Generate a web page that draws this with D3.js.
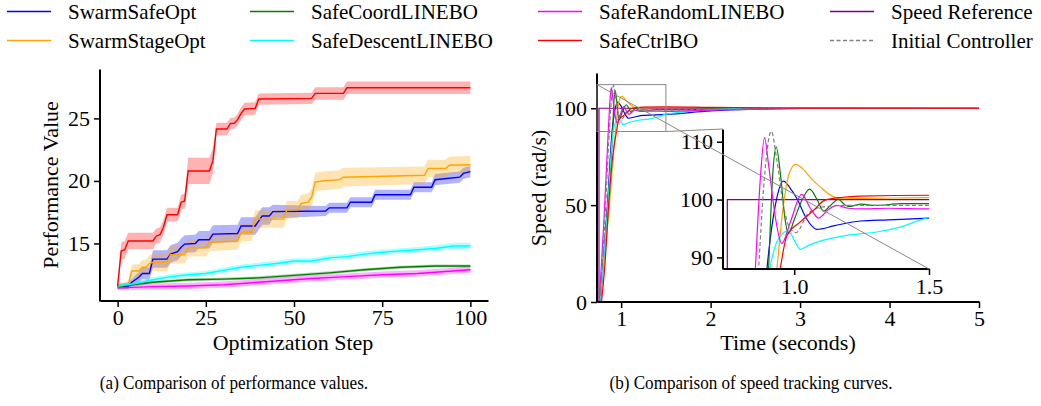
<html lang="en">
  <head>
    <meta charset="UTF-8">
    <title>Performance and speed tracking comparison</title>
    <script src="https://d3js.org/d3.v7.min.js"></script>
    <style>
body, html {
  margin: 0;
  padding: 0;
  background: white;
  overflow: hidden;
}
svg {
  display: block;
  font-family: "Liberation Serif", "Times New Roman", serif;
}
    </style>
  </head>
  <body>
    <svg width="1041" height="406"></svg>
    <script>
      // ---- left panel: [step, mean, half band width] knots ----
      const stepTicks = [0, 25, 50, 75, 100];
      const perfTicks = [15, 20, 25];

      const perfSafeCtrl = [
        [0, 11.6, 0.3], [1, 14.4, 0.7], [2, 14.5, 0.7], [3, 15.2, 0.65], [10, 15.2, 0.65],
        [11, 15.6, 0.6], [12, 15.7, 0.6], [13, 16.3, 0.6], [14, 17.3, 0.55], [17, 17.3, 0.55],
        [18, 18.3, 0.6], [19, 18.4, 0.6], [20, 20.8, 1.05], [26, 20.8, 1.05], [27, 21.6, 1.0],
        [28, 24.15, 0.5], [31, 24.15, 0.5], [32, 24.6, 0.45], [33, 24.6, 0.45], [34, 24.9, 0.45],
        [35, 25.4, 0.5], [36, 25.75, 0.5], [39, 25.8, 0.5], [40, 26.55, 0.45], [55, 26.6, 0.45],
        [56, 27.0, 0.5], [64, 27.0, 0.5], [65, 27.45, 0.5], [100, 27.45, 0.5]
      ];
      const perfSwarmSafe = [
        [0, 11.55, 0.2], [3, 11.6, 0.25], [4, 11.9, 0.3], [5, 12.1, 0.35], [6, 12.3, 0.4],
        [7, 12.6, 0.45], [9, 12.6, 0.5], [10, 13.75, 0.7], [14, 13.75, 0.7], [15, 14.15, 0.7],
        [17, 14.35, 0.7], [18, 14.7, 0.7], [19, 14.95, 0.7], [22, 15.0, 0.7], [23, 15.3, 0.7],
        [26, 15.3, 0.7], [27, 15.75, 0.7], [34, 15.8, 0.7], [35, 16.4, 0.7], [39, 16.4, 0.7],
        [40, 16.8, 0.7], [41, 17.2, 0.7], [43, 17.2, 0.7], [44, 17.55, 0.55], [59, 17.6, 0.4],
        [60, 17.85, 0.4], [65, 17.85, 0.4], [66, 18.3, 0.4], [72, 18.3, 0.4], [73, 18.9, 0.4],
        [83, 18.9, 0.4], [84, 19.5, 0.4], [89, 19.5, 0.4], [90, 20.1, 0.45], [97, 20.3, 0.45],
        [98, 20.6, 0.45], [100, 20.75, 0.45]
      ];
      const perfSwarmStage = [
        [0, 11.55, 0.2], [3, 11.7, 0.3], [4, 12.8, 0.5], [6, 12.8, 0.55], [7, 13.1, 0.6],
        [8, 13.1, 0.6], [9, 13.4, 0.65], [10, 13.5, 0.7], [14, 13.5, 0.7], [15, 14.1, 0.7],
        [19, 14.1, 0.7], [20, 14.65, 0.7], [25, 14.65, 0.7], [26, 15.1, 0.7], [34, 15.2, 0.7],
        [35, 15.9, 0.7], [38, 15.9, 0.7], [39, 16.95, 0.7], [47, 16.95, 0.7], [48, 17.7, 0.7],
        [51, 17.7, 0.7], [52, 18.2, 0.7], [54, 18.3, 0.7], [55, 18.7, 0.7], [56, 19.9, 0.75],
        [58, 20.0, 0.75], [63, 20.1, 0.75], [64, 20.3, 0.75], [87, 20.45, 0.7], [88, 21.0, 0.7],
        [93, 21.0, 0.7], [94, 21.25, 0.7], [100, 21.3, 0.7]
      ];
      const perfDescent = [
        [0, 11.6, 0.15], [5, 11.8, 0.18], [10, 12.1, 0.2], [15, 12.35, 0.2], [20, 12.5, 0.2],
        [25, 12.6, 0.2], [30, 12.85, 0.22], [35, 13.1, 0.22], [40, 13.25, 0.22], [45, 13.4, 0.22],
        [50, 13.6, 0.22], [55, 13.6, 0.22], [60, 13.85, 0.22], [65, 13.95, 0.22], [70, 14.15, 0.22],
        [75, 14.3, 0.22], [80, 14.4, 0.22], [85, 14.5, 0.22], [90, 14.6, 0.25], [95, 14.8, 0.25],
        [100, 14.8, 0.25]
      ];
      const perfCoord = [
        [0, 11.55, 0.1], [10, 11.9, 0.12], [20, 12.1, 0.12], [30, 12.15, 0.12], [40, 12.25, 0.12],
        [50, 12.45, 0.12], [60, 12.65, 0.12], [70, 12.9, 0.12], [80, 13.1, 0.12], [90, 13.2, 0.12],
        [100, 13.2, 0.12]
      ];
      const perfRandom = [
        [0, 11.45, 0.2], [10, 11.55, 0.25], [20, 11.6, 0.25], [30, 11.7, 0.25], [40, 11.9, 0.25],
        [45, 12.0, 0.25], [55, 12.2, 0.25], [65, 12.35, 0.25], [75, 12.5, 0.25], [85, 12.6, 0.25],
        [90, 12.7, 0.25], [100, 12.9, 0.25]
      ];

      // ---- right panel: [time, speed] samples ----
      const timeTicks = [1, 2, 3, 4, 5];
      const speedTicks = [0, 50, 100];
      const insetTimeTicks = [1.0, 1.5];
      const insetSpeedTicks = [90, 100, 110];

      const speedReference = [[0.73, 0], [0.752, 0], [0.752, 100], [5, 100]];
      const speedInitial = [
        [0.76, 0], [0.815, 40], [0.868, 88], [0.89, 104], [0.915, 111.8], [0.935, 107], [0.96, 99],
        [0.985, 95], [1.007, 94.3], [1.05, 97.5], [1.1, 98.7], [1.2, 99.0], [1.5, 99.0], [2, 99.4],
        [2.5, 99.7], [3, 99.9], [5, 100]
      ];
      const speedSwarmSafe = [
        [0.765, 0], [0.84, 45], [0.899, 88], [0.93, 99], [0.96, 103.2], [0.985, 102], [1.01, 100.2],
        [1.047, 96.6], [1.084, 94.85], [1.15, 95.5], [1.245, 96.3], [1.35, 96.5], [1.5, 96.8],
        [2, 98.6], [2.5, 99.5], [3, 99.9], [5, 100]
      ];
      const speedSwarmStage = [
        [0.77, 0], [0.86, 45], [0.936, 88], [0.96, 99], [0.98, 104.3], [1.005, 106.1], [1.03, 105.4],
        [1.06, 103.8], [1.096, 102.2], [1.13, 100.9], [1.17, 100.2], [1.25, 100.2], [1.5, 100.35],
        [2, 100.3], [3, 100.1], [5, 100]
      ];
      const speedCoord = [
        [0.765, 0], [0.84, 45], [0.905, 88], [0.92, 104], [0.933, 109.1], [0.95, 104], [0.965, 97],
        [0.979, 94.1], [1.0, 96.5], [1.03, 100], [1.057, 101.8], [1.085, 100], [1.109, 98.0],
        [1.135, 99.0], [1.164, 100.05], [1.185, 99.2], [1.201, 98.8], [1.25, 99.2], [1.3, 99.0],
        [1.4, 99.3], [1.5, 99.3], [2, 99.6], [2.5, 99.85], [3, 99.95], [5, 100]
      ];
      const speedDescent = [
        [0.765, 0], [0.845, 45], [0.91, 88], [0.95, 93.8], [0.978, 94.6], [1.0, 93.0], [1.022, 91.4],
        [1.05, 92.0], [1.084, 92.65], [1.195, 93.8], [1.306, 94.4], [1.393, 95.25], [1.5, 96.9],
        [2, 99.2], [2.5, 100.1], [3, 100.4], [5, 100.4]
      ];
      const speedRandom = [
        [0.755, 0], [0.805, 40], [0.856, 88], [0.875, 104], [0.89, 110.7], [0.905, 106], [0.93, 97],
        [0.954, 92.4], [0.985, 96], [1.028, 100.9], [1.06, 98.5], [1.09, 96.8], [1.125, 98.2],
        [1.158, 99.0], [1.2, 98.5], [1.245, 98.4], [1.35, 98.5], [1.5, 98.4], [2, 99.0],
        [2.5, 99.6], [3, 99.9], [5, 100]
      ];
      const speedCtrl = [
        [0.78, 0], [0.82, 20], [0.86, 50], [0.905, 75], [0.948, 88], [0.973, 93.8], [1.022, 96.1],
        [1.071, 98.1], [1.114, 99.9], [1.18, 100.4], [1.245, 100.6], [1.5, 100.75], [2, 100.5],
        [3, 100.1], [5, 100]
      ];

      const svg = d3.select("svg");
      const tickFont = 22;

      // ================= left panel =================
      const xL = d3.scaleLinear().domain([-5, 105]).range([100, 488]);
      const yL = d3.scaleLinear().domain([10.4, 28.95]).range([301, 69]);

      const left = svg.append("g");
      const perfSeries = [
        {data: perfSwarmSafe, color: "blue"},
        {data: perfSwarmStage, color: "orange"},
        {data: perfCoord, color: "green"},
        {data: perfDescent, color: "cyan"},
        {data: perfRandom, color: "magenta"},
        {data: perfSafeCtrl, color: "red"}
      ];
      const band = d3.area().x(d => xL(d[0])).y0(d => yL(d[1] - d[2])).y1(d => yL(d[1] + d[2]));
      const meanLine = d3.line().x(d => xL(d[0])).y(d => yL(d[1]));
      perfSeries.forEach(s => {
        left.append("path").attr("d", band(s.data)).attr("fill", s.color).attr("fill-opacity", 0.3);
      });
      perfSeries.forEach(s => {
        left.append("path").attr("d", meanLine(s.data)).attr("fill", "none")
          .attr("stroke", s.color).attr("stroke-width", 1.4);
      });

      left.append("g").attr("class", "xax").attr("transform", "translate(0,301)")
        .call(d3.axisBottom(xL).tickValues(stepTicks).tickFormat(d3.format("d")).tickSize(6).tickPadding(2));
      left.append("g").attr("class", "yax").attr("transform", "translate(100,0)")
        .call(d3.axisLeft(yL).tickValues(perfTicks).tickFormat(d3.format("d")).tickSize(6).tickPadding(4));

      // ================= right panel =================
      const xR = d3.scaleLinear().domain([0.73, 5]).range([597, 979]);
      const yR = d3.scaleLinear().domain([0, 118.2]).range([302, 73]);
      const xI = d3.scaleLinear().domain([0.736, 1.5]).range([723, 929]);
      const yI = d3.scaleLinear().domain([88, 112.2]).range([269, 129]);

      const speedSeries = [
        {data: speedReference, color: "purple", dash: null, curve: d3.curveLinear},
        {data: speedSwarmSafe, color: "blue", dash: null, curve: d3.curveMonotoneX},
        {data: speedSwarmStage, color: "orange", dash: null, curve: d3.curveMonotoneX},
        {data: speedCoord, color: "green", dash: null, curve: d3.curveMonotoneX},
        {data: speedDescent, color: "cyan", dash: null, curve: d3.curveMonotoneX},
        {data: speedRandom, color: "magenta", dash: null, curve: d3.curveMonotoneX},
        {data: speedInitial, color: "gray", dash: "4,2.5", curve: d3.curveMonotoneX},
        {data: speedCtrl, color: "red", dash: null, curve: d3.curveMonotoneX}
      ];

      const defs = svg.append("defs");
      defs.append("clipPath").attr("id", "clipMain")
        .append("rect").attr("x", 597).attr("y", 60).attr("width", 382).attr("height", 242);
      defs.append("clipPath").attr("id", "clipInset")
        .append("rect").attr("x", 723).attr("y", 129).attr("width", 206).attr("height", 140);

      const right = svg.append("g");
      const mainLines = right.append("g").attr("clip-path", "url(#clipMain)");
      speedSeries.forEach(s => {
        mainLines.append("path")
          .attr("d", d3.line().curve(s.curve).x(d => xR(d[0])).y(d => yR(d[1]))(s.data))
          .attr("fill", "none").attr("stroke", s.color).attr("stroke-width", 1.2)
          .attr("stroke-dasharray", s.dash);
      });

      right.append("g").attr("class", "xax").attr("transform", "translate(0,302)")
        .call(d3.axisBottom(xR).tickValues(timeTicks).tickFormat(d3.format("d")).tickSize(6).tickPadding(2));
      right.append("g").attr("class", "yax").attr("transform", "translate(597,0)")
        .call(d3.axisLeft(yR).tickValues(speedTicks).tickFormat(d3.format("d")).tickSize(6).tickPadding(4));

      // zoom rectangle on the main axes
      right.append("rect")
        .attr("x", xR(0.73)).attr("y", yR(112.2))
        .attr("width", xR(1.5) - xR(0.73)).attr("height", yR(88) - yR(112.2))
        .attr("fill", "none").attr("stroke", "#888").attr("stroke-width", 1);

      // inset
      const inset = svg.append("g");
      inset.append("rect").attr("x", 723).attr("y", 129).attr("width", 206).attr("height", 140).attr("fill", "white");
      const insetLines = inset.append("g").attr("clip-path", "url(#clipInset)");
      speedSeries.forEach(s => {
        insetLines.append("path")
          .attr("d", d3.line().curve(s.curve).x(d => xI(d[0])).y(d => yI(d[1]))(s.data))
          .attr("fill", "none").attr("stroke", s.color).attr("stroke-width", 1.2)
          .attr("stroke-dasharray", s.dash);
      });
      inset.append("g").attr("class", "xax").attr("transform", "translate(0,269)")
        .call(d3.axisBottom(xI).tickValues(insetTimeTicks).tickFormat(d3.format(".1f")).tickSize(6).tickPadding(3));
      inset.append("g").attr("class", "yax").attr("transform", "translate(723,0)")
        .call(d3.axisLeft(yI).tickValues(insetSpeedTicks).tickFormat(d3.format("d")).tickSize(6).tickPadding(4));

      // connector lines between the rectangle and the inset
      const connectors = [
        [[0.73, 112.2], [1.5, 88]],
        [[1.5, 88], [0.736, 112.2]]
      ];
      connectors.forEach(([a, b]) => {
        svg.append("line")
          .attr("x1", xR(a[0])).attr("y1", yR(a[1]))
          .attr("x2", xI(b[0])).attr("y2", yI(b[1]))
          .attr("stroke", "#888").attr("stroke-width", 1);
      });

      // common axis styling: plain spines without end caps, serif tick labels
      svg.selectAll(".xax .domain").each(function() {
        const bb = this.getBBox();
        d3.select(this).attr("d", `M${bb.x},0H${bb.x + bb.width}`);
      });
      svg.selectAll(".yax .domain").each(function() {
        const bb = this.getBBox();
        d3.select(this).attr("d", `M0,${bb.y}V${bb.y + bb.height}`);
      });
      svg.selectAll(".xax, .yax").attr("font-family", null).attr("font-size", null);
      svg.selectAll(".domain").attr("stroke", "black").attr("stroke-width", 2);
      svg.selectAll(".tick line").attr("stroke", "black").attr("stroke-width", 1.5);
      svg.selectAll(".tick text").attr("font-size", tickFont).attr("fill", "black");

      // axis titles
      const label = (x, y, txt, rot) => svg.append("text")
        .attr("transform", `translate(${x},${y})` + (rot ? " rotate(-90)" : ""))
        .attr("text-anchor", "middle").attr("font-size", 22).text(txt);
      label(293, 350, "Optimization Step");
      label(58, 185, "Performance Value", true);
      label(788, 350, "Time (seconds)");
      label(546, 188, "Speed (rad/s)", true);

      // legend
      const legendItems = [
        {name: "SwarmSafeOpt", color: "blue", col: 0, row: 0},
        {name: "SwarmStageOpt", color: "orange", col: 0, row: 1},
        {name: "SafeCoordLINEBO", color: "green", col: 1, row: 0},
        {name: "SafeDescentLINEBO", color: "cyan", col: 1, row: 1},
        {name: "SafeRandomLINEBO", color: "magenta", col: 2, row: 0},
        {name: "SafeCtrlBO", color: "red", col: 2, row: 1},
        {name: "Speed Reference", color: "purple", col: 3, row: 0},
        {name: "Initial Controller", color: "gray", col: 3, row: 1, dash: "4,2.5"}
      ];
      const colX = [7, 250, 538, 830];
      const rowY = [11.5, 40.5];
      legendItems.forEach(d => {
        const g = svg.append("g").attr("transform", `translate(${colX[d.col]},${rowY[d.row]})`);
        g.append("line").attr("x1", 0).attr("x2", 44).attr("stroke", d.color)
          .attr("stroke-width", 1.3).attr("stroke-dasharray", d.dash || null);
        g.append("text").attr("x", 61).attr("y", 7).attr("font-size", 21).text(d.name);
      });

      // captions, slightly condensed like the reference typesetting
      const captions = [
        {text: "(a) Comparison of performance values.", x: 234},
        {text: "(b) Comparison of speed tracking curves.", x: 751}
      ];
      captions.forEach(c => {
        const t = svg.append("text").attr("x", c.x).attr("y", 389).attr("text-anchor", "middle")
          .attr("font-size", 19).text(c.text);
        const w = t.node().getComputedTextLength();
        t.attr("textLength", w * 0.9).attr("lengthAdjust", "spacingAndGlyphs");
      });
    </script>
  </body>
</html>
